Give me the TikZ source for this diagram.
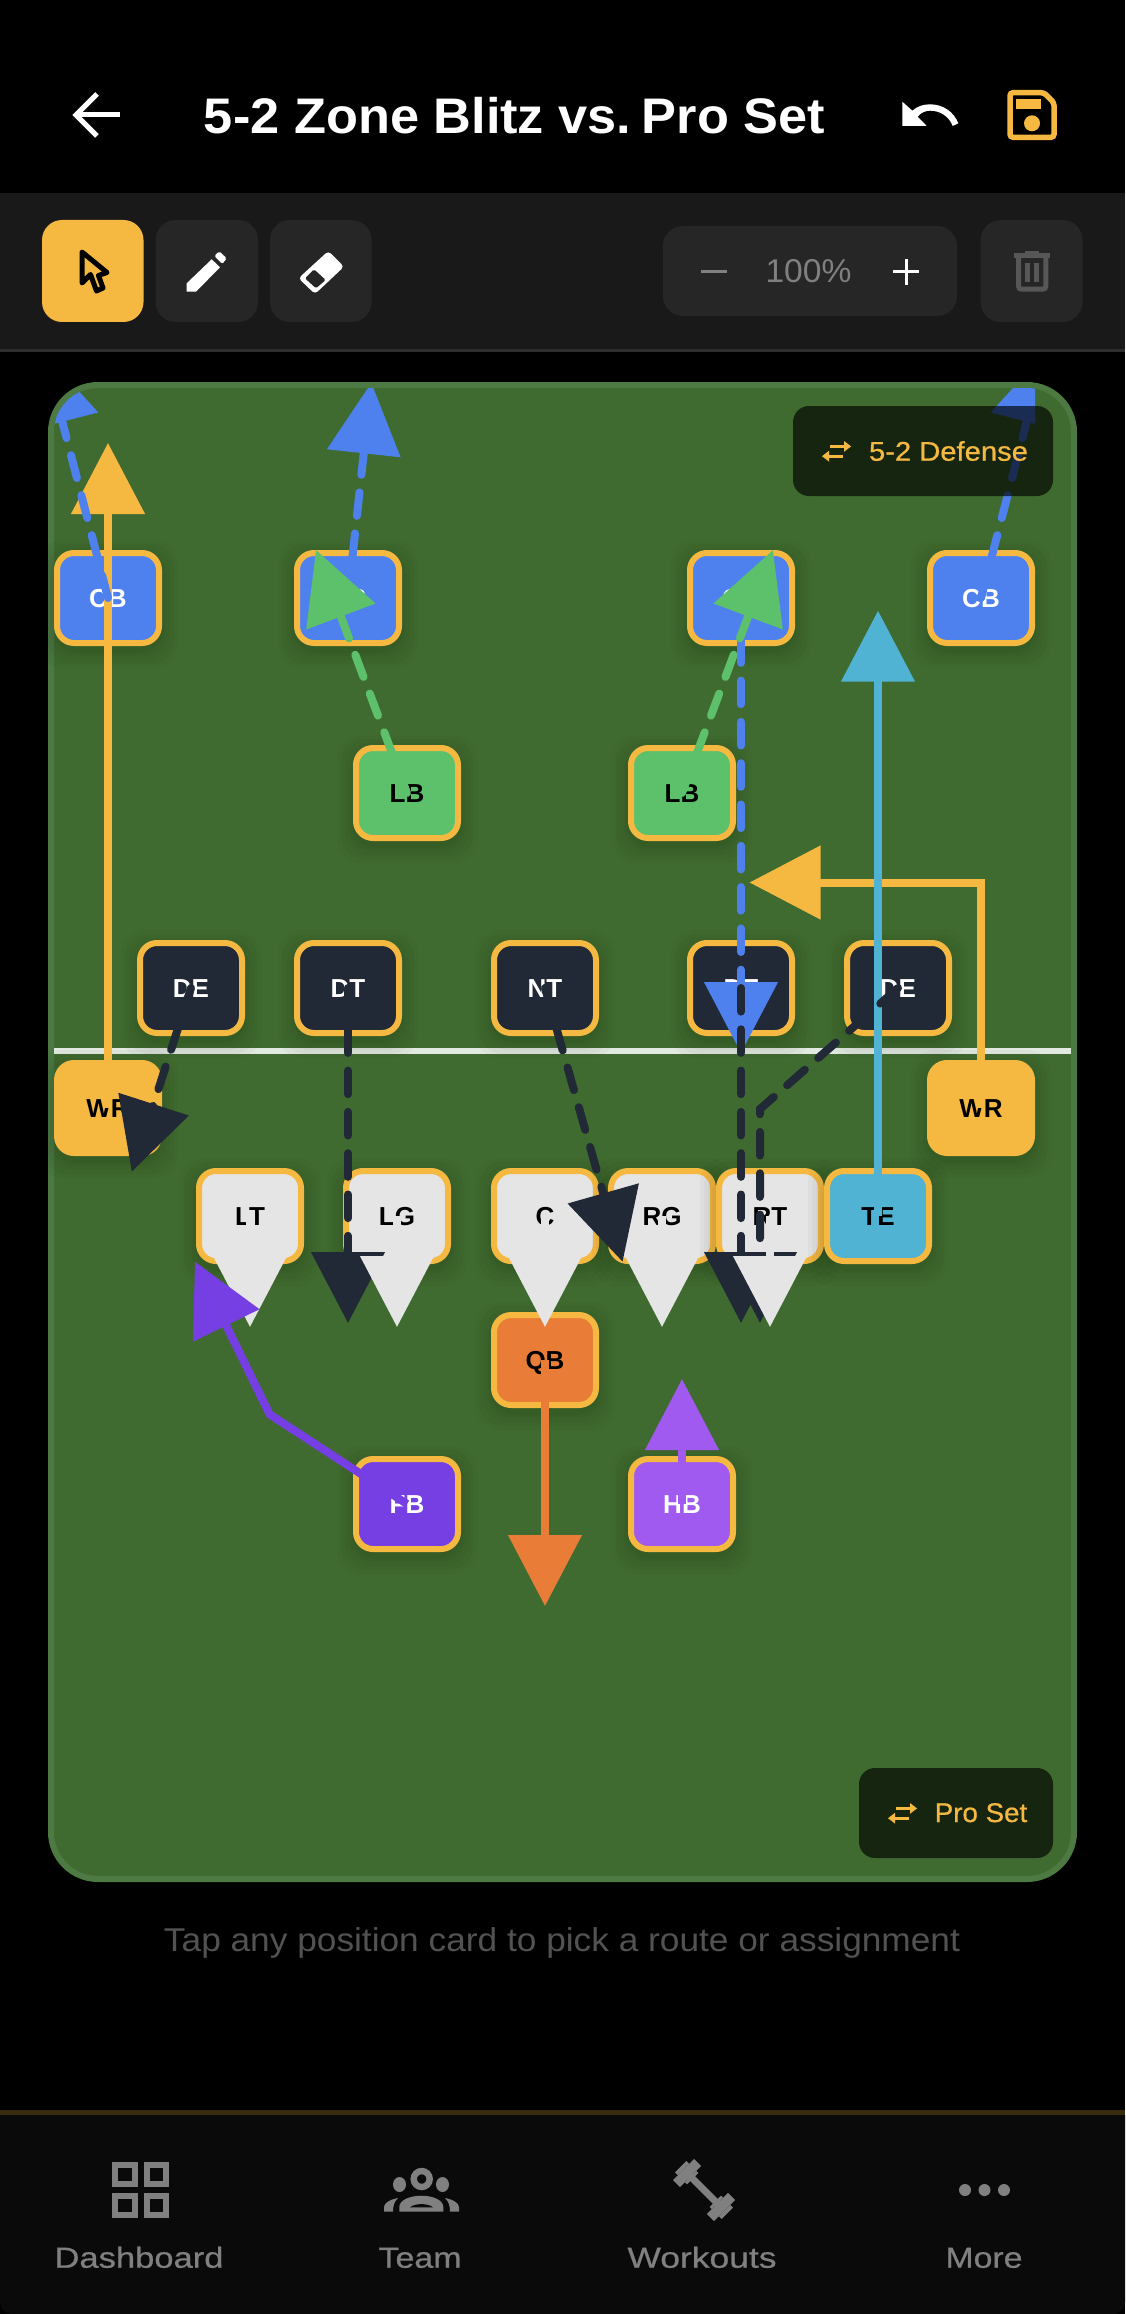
\documentclass[tikz,border=0pt]{standalone}
\usepackage{graphicx}
\usepackage{fontspec}
\setmainfont{Liberation Sans}
\newfontfamily\medfont[FakeBold=0.6]{Liberation Sans}
\usetikzlibrary{arrows.meta}
\definecolor{gold}{HTML}{F5B941}
\definecolor{fieldc}{HTML}{406B30}
\definecolor{fieldb}{HTML}{4C7A42}
\definecolor{blu}{HTML}{4E80EE}
\definecolor{grn}{HTML}{5CC16A}
\definecolor{drk}{HTML}{212936}
\definecolor{wht}{HTML}{E5E5E5}
\definecolor{teal2}{HTML}{50B3D4}
\definecolor{orng}{HTML}{E97C37}
\definecolor{purA}{HTML}{763FE3}
\definecolor{purB}{HTML}{A05AF0}
\definecolor{btn}{HTML}{262626}
\definecolor{navgray}{HTML}{808080}
\tikzset{
  card/.style={rectangle,draw=#1,line width=6pt,rounded corners=17pt,minimum width=102pt,minimum height=90pt,inner sep=0pt,outer sep=0pt,text height=19pt,text depth=0pt,font=\fontsize{26}{26}\selectfont\bfseries},
  route/.style={line width=8pt,color=#1,-{Triangle[length=71pt,width=72pt]}},
  dashroute/.style={route=#1,line cap=round,dash pattern=on 23.6pt off 17.7pt},
  tx/.style={inner sep=0pt,outer sep=0pt,anchor=base},
  panel/.style={fill=black,fill opacity=0.65,rounded corners=16pt},
  toolbtn/.style={rounded corners=20pt,fill=#1}
}
\newcommand{\fitw}[2]{\resizebox{#1pt}{\height}{#2}}
\newcommand{\mkcard}[7]{%
  \foreach \s in {16,12,8,4,1}{\fill[black,opacity=.028,rounded corners=24pt] ({#2-54-\s},{#3-48-\s+6}) rectangle ({#2+54+\s},{#3+48+\s+6});}
  \node[card=#7,fill=#4,text=#5] (#1) at (#2,#3) {#6};}
\newcommand{\swapicon}[2]{%
  \begin{scope}[shift={(#1,#2)},gold]
    \fill (8,3.8) rectangle (22,7);
    \fill (22,0) -- (29,5.4) -- (22,10.8) -- cycle;
    \fill (7,13.6) rectangle (21,16.8);
    \fill (7,9.8) -- (0,15.2) -- (7,20.6) -- cycle;
  \end{scope}}
\newcommand{\barrect}[4]{\fill (#1,#3) -- (#2,#3) -- (#2,#4) -- (#1,#4) -- cycle;}
\begin{document}
\begin{tikzpicture}[x=1pt,y=-1pt]
\useasboundingbox (0,0) rectangle (1125,2314);
\fill[black] (0,0) rectangle (1125,2314);
% header
\draw[white,line width=5pt,line join=miter] (120,115) -- (78,115);
\draw[white,line width=5pt] (97,94) -- (76,115) -- (97,136);
\node[tx,text=white] (title) at (514.5,134) {\fontsize{50}{50}\selectfont\bfseries\fitw{621}{5-2 Zone Blitz vs.\kern-4pt\ Pro Set}};
\fill[white] (902.3,101.7) -- (912.3,110.7) .. controls (917,106.5) and (923,104.3) .. (930,104.3) .. controls (943,104.3) and (954,112) .. (958.3,123.3) -- (952.7,126) .. controls (949,116.5) and (940.5,110.7) .. (930,110.7) .. controls (925.5,110.7) and (921,112.5) .. (917.7,116.7) -- (926.7,126) -- (902.3,126) -- cycle;
\draw[gold,line width=5.5pt,rounded corners=3pt] (1010,92.7) -- (1044,92.7) -- (1054,102.7) -- (1054,137.3) -- (1010,137.3) -- cycle;
\fill[gold] (1015.7,99) rectangle (1040.7,109.3);
\fill[gold] (1032,123.3) circle (8);
% toolbar
\fill[black!90!white] (0,193) rectangle (1125,349);
\fill[black!82!white] (0,349) rectangle (1125,352);
\fill[toolbtn=gold] (42,220) rectangle (143.5,322);
\fill[toolbtn=btn] (155.7,220) rectangle (258,322);
\fill[toolbtn=btn] (270,220) rectangle (371.6,322);
\fill[toolbtn=btn] (663,226) rectangle (957,316);
\fill[toolbtn=btn] (980.6,220) rectangle (1082.5,322);
\draw[black,line width=5pt,line join=round] (82,252) -- (107,272.5) -- (98.5,275.5) -- (103,288) -- (96.5,291) -- (90.5,274.5) -- (82,283) -- cycle;
\fill[white] (186.7,291.7) -- (186.7,283.3) -- (211.7,259.3) -- (220,267.3) -- (196,291.7) -- cycle;
\fill[white,rounded corners=1.5pt] (214.3,256) -- (219.3,251.3) -- (226.7,258.3) -- (222.3,264) -- cycle;
\fill[white,rounded corners=3.5pt] (328.3,251) -- (344,266.7) -- (315,294) -- (298.5,278.3) -- cycle;
\fill[btn,rounded corners=1.5pt] (314,269.3) -- (325.7,280) -- (316,288.3) -- (305,278.3) -- cycle;
\fill[navgray] (701,270.5) rectangle (727,273.5);
\node[tx,text=navgray] (zoomlabel) at (808.5,283) {\fontsize{33}{33}\selectfont\fitw{86}{100\%}};
\fill[white] (893,270.5) rectangle (919,273.5);
\fill[white] (904.5,259) rectangle (907.5,285);
% trash
\fill[black!66!white] (1014,253.3) rectangle (1050,258);
\fill[black!66!white] (1025,251) rectangle (1039.3,253.5);
\draw[black!66!white,line width=5pt,rounded corners=3pt] (1018.5,258) -- (1018.5,289.2) -- (1045.8,289.2) -- (1045.8,258);
\fill[black!66!white] (1025,262.7) rectangle (1030,282.3);
\fill[black!66!white] (1034.3,262.7) rectangle (1039.3,282.3);
% field
\draw[draw=fieldb,fill=fieldc,line width=6pt,rounded corners=47pt] (51,385) rectangle (1074,1879);
\fill[white!85!fieldc] (54,1048) rectangle (1071,1054);
% cards
\mkcard{cbA}{108}{598}{blu}{white}{CB}{gold}
\mkcard{cbB}{348}{598}{blu}{white}{CB}{gold}
\mkcard{cbC}{741}{598}{blu}{white}{CB}{gold}
\mkcard{cbD}{981}{598}{blu}{white}{CB}{gold}
\mkcard{lbA}{407}{793}{grn}{black}{LB}{gold}
\mkcard{lbB}{682}{793}{grn}{black}{LB}{gold}
\mkcard{deA}{191}{988}{drk}{white}{DE}{gold}
\mkcard{dtA}{348}{988}{drk}{white}{DT}{gold}
\mkcard{ntA}{545}{988}{drk}{white}{NT}{gold}
\mkcard{dtB}{741}{988}{drk}{white}{DT}{gold}
\mkcard{deB}{898}{988}{drk}{white}{DE}{gold}
\mkcard{wrA}{108}{1108}{gold}{black}{WR}{gold}
\mkcard{wrB}{981}{1108}{gold}{black}{WR}{gold}
\mkcard{lt}{250}{1216}{wht}{black}{LT}{gold}
\mkcard{lg}{397}{1216}{wht}{black}{LG}{gold}
\mkcard{cc}{545}{1216}{wht}{black}{C}{gold}
\mkcard{rg}{662}{1216}{wht}{black}{RG}{gold}
\mkcard{rt}{770}{1216}{wht}{black}{RT}{gold}
\mkcard{te}{878}{1216}{teal2}{black}{TE}{gold}
\mkcard{qb}{545}{1360}{orng}{black}{QB}{gold}
\mkcard{fb}{407}{1504}{purA}{white}{FB}{gold}
\mkcard{hb}{682}{1504}{purB}{white}{HB}{gold}
% route ends
\coordinate (tcbA) at (44.5,353);
\coordinate (tcbB) at (371.4,382.7);
\coordinate (tcbC) at (741,1053);
\coordinate (tcbD) at (1044.5,353);
\coordinate (tlbA) at (316,550);
\coordinate (tlbB) at (773,550);
\coordinate (tdeA) at (131.8,1171.7);
\coordinate (tdtA) at (348,1323);
\coordinate (tntA) at (622.6,1261.7);
\coordinate (tdtB) at (741,1323);
\coordinate (bdeB) at (760,1109);
\coordinate (tdeB) at (760,1323);
\coordinate (twrA) at (108,443);
\coordinate (cwrB) at (981,882.5);
\coordinate (twrB) at (749.5,882.5);
\coordinate (tte) at (878,610.7);
\coordinate (tlt) at (250,1327);
\coordinate (tlg) at (397,1327);
\coordinate (tcc) at (545,1327);
\coordinate (trg) at (662,1327);
\coordinate (trt) at (770,1327);
\coordinate (tqb) at (545,1606);
\coordinate (bfb) at (269.7,1414.4);
\coordinate (tfb) at (195,1261.7);
\coordinate (thb) at (682,1379);
\begin{scope}
\clip[rounded corners=44pt] (54,388) rectangle (1071,1876);
\draw[route=gold] (wrA.center) -- (twrA);
\draw[route=gold] (wrB.center) -- (cwrB) -- (twrB);
\draw[route=teal2] (te.center) -- (tte);
\draw[dashroute=blu] (cbA.center) -- (tcbA);
\draw[dashroute=blu] (cbB.center) -- (tcbB);
\draw[dashroute=blu] (cbC.center) -- (tcbC);
\begin{scope}
\clip (54,388) rectangle (1035,1876);
\draw[dashroute=blu] (cbD.center) -- (tcbD);
\end{scope}
\draw[dashroute=grn] (lbA.center) -- (tlbA);
\draw[dashroute=grn] (lbB.center) -- (tlbB);
\draw[dashroute=drk] (deA.center) -- (tdeA);
\draw[dashroute=drk] (dtA.center) -- (tdtA);
\draw[dashroute=drk] (ntA.center) -- (tntA);
\draw[dashroute=drk] (dtB.center) -- (tdtB);
\draw[dashroute=drk] (deB.center) -- (bdeB) -- (tdeB);
\draw[route=wht] (lt.center) -- (tlt);
\draw[route=wht] (lg.center) -- (tlg);
\draw[route=wht] (cc.center) -- (tcc);
\draw[route=wht] (rg.center) -- (trg);
\draw[route=wht] (rt.center) -- (trt);
\draw[route=orng] (qb.center) -- (tqb);
\draw[route=purA] (fb.center) -- (bfb) -- (tfb);
\draw[route=purB] (hb.center) -- (thb);
\end{scope}
% formation labels
\fill[panel] (793,406) rectangle (1053,496);
\swapicon{822}{441}
\node[tx,text=gold] (deflabel) at (948.5,460.7) {\fontsize{27}{27}\medfont\fitw{159}{5-2 Defense}};
\fill[panel] (859,1768) rectangle (1053,1858);
\swapicon{888}{1803}
\node[tx,text=gold] (offlabel) at (981,1822) {\fontsize{27}{27}\medfont\fitw{92.5}{Pro Set}};
% caption
\node[tx,text=black!68!white] (caption) at (562,1951) {\fontsize{33}{33}\selectfont\fitw{796}{Tap any position card to pick a route or assignment}};
% nav
\fill[black!96!white] (0,2115) -- (1125,2115) {[rounded corners=12pt] -- (1125,2314) -- (0,2314)} -- cycle;
\fill[black!77!gold] (0,2110) rectangle (1125,2115);
\begin{scope}[navgray]
\draw[line width=6pt] (115,2164.7) rectangle (135,2183.7);
\draw[line width=6pt] (146.5,2164.7) rectangle (166,2183.7);
\draw[line width=6pt] (115,2196) rectangle (135,2215);
\draw[line width=6pt] (146.5,2196) rectangle (166,2215);
% team
\draw[line width=6.4pt] (421.7,2179) circle (8);
\fill (399.5,2184.5) ellipse (6.5 and 7.5);
\fill (442.5,2184.5) ellipse (6.5 and 7.5);
\fill (399.3,2211.7) -- (399.3,2207) .. controls (399.3,2200) and (410,2195.7) .. (421.5,2195.7) .. controls (433,2195.7) and (443.3,2200) .. (443.3,2207) -- (443.3,2211.7) -- cycle;
\fill[black!96!white] (410,2207.3) .. controls (415,2203) and (428,2203) .. (433,2207.3) -- cycle;
\fill (384,2211.7) -- (384,2207) .. controls (384,2203) and (390,2199.5) .. (398,2198) .. controls (394,2202) and (393,2206) .. (393,2211.7) -- cycle;
\fill (459,2211.7) -- (459,2207) .. controls (459,2203) and (453,2199.5) .. (445,2198) .. controls (449,2202) and (450,2206) .. (450,2211.7) -- cycle;
% barbell
\begin{scope}[shift={(704,2190)},x={(0.707pt,-0.707pt)},y={(0.707pt,0.707pt)}]
\barrect{-20}{20}{-3.5}{3.5}
\barrect{19}{29}{-15}{15}
\barrect{-29}{-19}{-15}{15}
\barrect{29}{33}{-8}{8}
\barrect{-33}{-29}{-8}{8}
\barrect{16}{19}{-8}{8}
\barrect{-19}{-16}{-8}{8}
\end{scope}
% more
\fill (965,2190) circle (6);
\fill (984.5,2190) circle (6);
\fill (1004,2190) circle (6);
\end{scope}
\node[tx,text=navgray] (navdash) at (139,2267.7) {\fontsize{29}{29}\medfont\fitw{169}{Dashboard}};
\node[tx,text=navgray] (navteam) at (420,2267.7) {\fontsize{29}{29}\medfont\fitw{83}{Team}};
\node[tx,text=navgray] (navwork) at (702,2267.7) {\fontsize{29}{29}\medfont\fitw{149}{Workouts}};
\node[tx,text=navgray] (navmore) at (984,2267.7) {\fontsize{29}{29}\medfont\fitw{77}{More}};
\end{tikzpicture}
\end{document}
